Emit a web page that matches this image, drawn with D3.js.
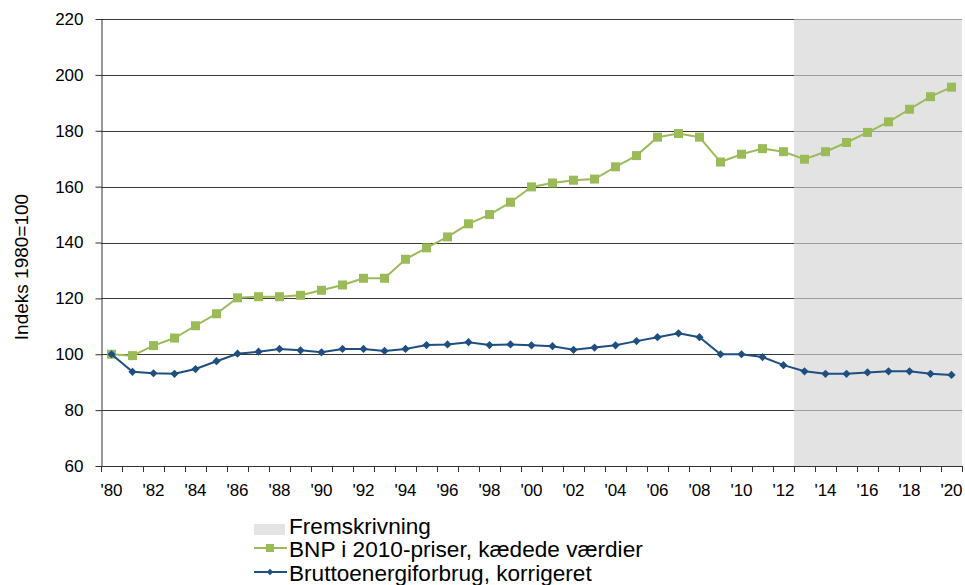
<!DOCTYPE html>
<html lang="da">
<head>
    <meta charset="utf-8">
    <title>BNP og bruttoenergiforbrug</title>
    <script src="https://d3js.org/d3.v7.min.js"></script>
    <style>
        body {
            margin: 0;
            background: #fff;
            font-family: "Liberation Sans", Arial, sans-serif;
        }
        .axis text { font-size: 17px; fill: #000; font-family: "Liberation Sans", Arial, sans-serif; }
        .axis path, .axis line { stroke: #333; }
        .grid line { stroke: #383838; stroke-width: 1px; }
        .legend text { font-size: 22.6px; fill: #000; }
    </style>
</head>
<body>
<svg id="chart" width="965" height="585"></svg>
<script>
    // years on the category axis
    const years = d3.range(1980, 2021);
    const tickLabels = years.filter(y => y % 2 === 0);
    const forecastStart = 2013;

    // BNP i 2010-priser, kædede værdier (1980=100)
    const bnp = [100, 99.5, 103.1, 105.8, 110.2, 114.5, 120.2, 120.6, 120.6, 121.1,
                 122.9, 124.8, 127.2, 127.2, 134.0, 138.1, 142.0, 146.7, 150.0, 154.4,
                 159.9, 161.3, 162.3, 162.7, 167.1, 171.1, 177.7, 179.0, 177.7, 168.8,
                 171.6, 173.6, 172.5, 169.8, 172.5, 175.8, 179.4, 183.2, 187.7, 192.2,
                 195.6];

    // Bruttoenergiforbrug, korrigeret (1980=100)
    const energi = [100, 93.7, 93.2, 93.0, 94.7, 97.5, 100.2, 100.9, 101.9, 101.4,
                    100.7, 101.9, 101.9, 101.2, 101.9, 103.3, 103.5, 104.3, 103.3, 103.5,
                    103.2, 102.9, 101.6, 102.4, 103.2, 104.7, 106.1, 107.5, 106.1, 100.0,
                    100.0, 99.0, 96.1, 93.9, 93.0, 93.0, 93.5, 93.9, 93.9, 93.0,
                    92.6];

    const yTicks = [60, 80, 100, 120, 140, 160, 180, 200, 220];

    const green = "#9BBB59";
    const blue = "#1F4E80";

    const svg = d3.select("#chart");
    const mLeft = 101, mRight = 962, mTop = 19, mBottom = 466;

    const x = d3.scaleBand().domain(years).range([mLeft, mRight]).padding(0);
    const cx = d => x(d) + x.bandwidth() / 2;
    const y = d3.scaleLinear().domain([60, 220]).range([mBottom, mTop]);

    // gridlines
    svg.append("g").attr("class", "grid")
        .selectAll("line")
        .data(yTicks.filter(v => v > 60))
        .join("line")
        .attr("x1", mLeft).attr("x2", mRight)
        .attr("y1", d => Math.round(y(d)) + 0.5)
        .attr("y2", d => Math.round(y(d)) + 0.5);

    // forecast shading (drawn over the gridlines)
    svg.append("rect")
        .attr("x", x(forecastStart))
        .attr("y", mTop)
        .attr("width", mRight - x(forecastStart))
        .attr("height", mBottom - mTop)
        .attr("fill", "#d4d4d4")
        .attr("fill-opacity", 0.65);

    // y axis
    svg.append("g").attr("class", "axis")
        .attr("transform", `translate(${mLeft + 0.5},0)`)
        .call(d3.axisLeft(y).tickValues(yTicks).tickSize(6).tickPadding(12).tickSizeOuter(0));

    // x axis: labels centred, ticks on category boundaries
    const xAxis = svg.append("g").attr("class", "axis")
        .attr("transform", `translate(0,${mBottom + 0.5})`)
        .call(d3.axisBottom(x).tickValues(tickLabels).tickSize(0).tickPadding(17)
            .tickFormat(d => "'" + String(d).slice(2)));
    xAxis.select(".domain").remove();

    svg.append("line")
        .attr("x1", mLeft).attr("x2", mRight)
        .attr("y1", mBottom + 0.5).attr("y2", mBottom + 0.5)
        .attr("stroke", "#333");

    svg.append("g")
        .selectAll("line")
        .data(years.concat([null]))
        .join("line")
        .attr("x1", d => Math.round(d === null ? mRight : x(d)) + 0.5)
        .attr("x2", d => Math.round(d === null ? mRight : x(d)) + 0.5)
        .attr("y1", mBottom).attr("y2", mBottom + 6)
        .attr("stroke", "#333");

    // y axis title
    svg.append("text")
        .attr("transform", `translate(28,267) rotate(-90)`)
        .attr("text-anchor", "middle")
        .style("font-size", "19px")
        .text("Indeks 1980=100");

    // series
    const line = d3.line().x((d, i) => cx(years[i])).y(d => y(d));

    svg.append("path")
        .datum(bnp)
        .attr("fill", "none")
        .attr("stroke", green)
        .attr("stroke-width", 2)
        .attr("d", line);

    svg.append("g")
        .selectAll("rect")
        .data(bnp)
        .join("rect")
        .attr("x", (d, i) => cx(years[i]) - 4.5)
        .attr("y", d => y(d) - 4.5)
        .attr("width", 9).attr("height", 9)
        .attr("fill", green);

    svg.append("path")
        .datum(energi)
        .attr("fill", "none")
        .attr("stroke", blue)
        .attr("stroke-width", 2)
        .attr("d", line);

    svg.append("g")
        .selectAll("path")
        .data(energi)
        .join("path")
        .attr("d", d3.symbol().type(d3.symbolSquare).size(34))
        .attr("transform", (d, i) => `translate(${cx(years[i])},${y(d)}) rotate(45)`)
        .attr("fill", blue);

    // legend
    const legend = svg.append("g").attr("class", "legend");

    legend.append("rect")
        .attr("x", 254).attr("y", 524).attr("width", 31).attr("height", 11)
        .attr("fill", "#e3e3e3");
    legend.append("text").attr("x", 289).attr("y", 534).text("Fremskrivning");

    legend.append("line")
        .attr("x1", 254).attr("x2", 287).attr("y1", 548).attr("y2", 548)
        .attr("stroke", green).attr("stroke-width", 2);
    legend.append("rect")
        .attr("x", 266).attr("y", 544).attr("width", 8).attr("height", 8)
        .attr("fill", green);
    legend.append("text").attr("x", 289).attr("y", 557).text("BNP i 2010-priser, kædede værdier");

    legend.append("line")
        .attr("x1", 254).attr("x2", 287).attr("y1", 572).attr("y2", 572)
        .attr("stroke", blue).attr("stroke-width", 2);
    legend.append("path")
        .attr("d", d3.symbol().type(d3.symbolSquare).size(20))
        .attr("transform", "translate(270,572) rotate(45)")
        .attr("fill", blue);
    legend.append("text").attr("x", 289).attr("y", 581).text("Bruttoenergiforbrug, korrigeret");
</script>
</body>
</html>
